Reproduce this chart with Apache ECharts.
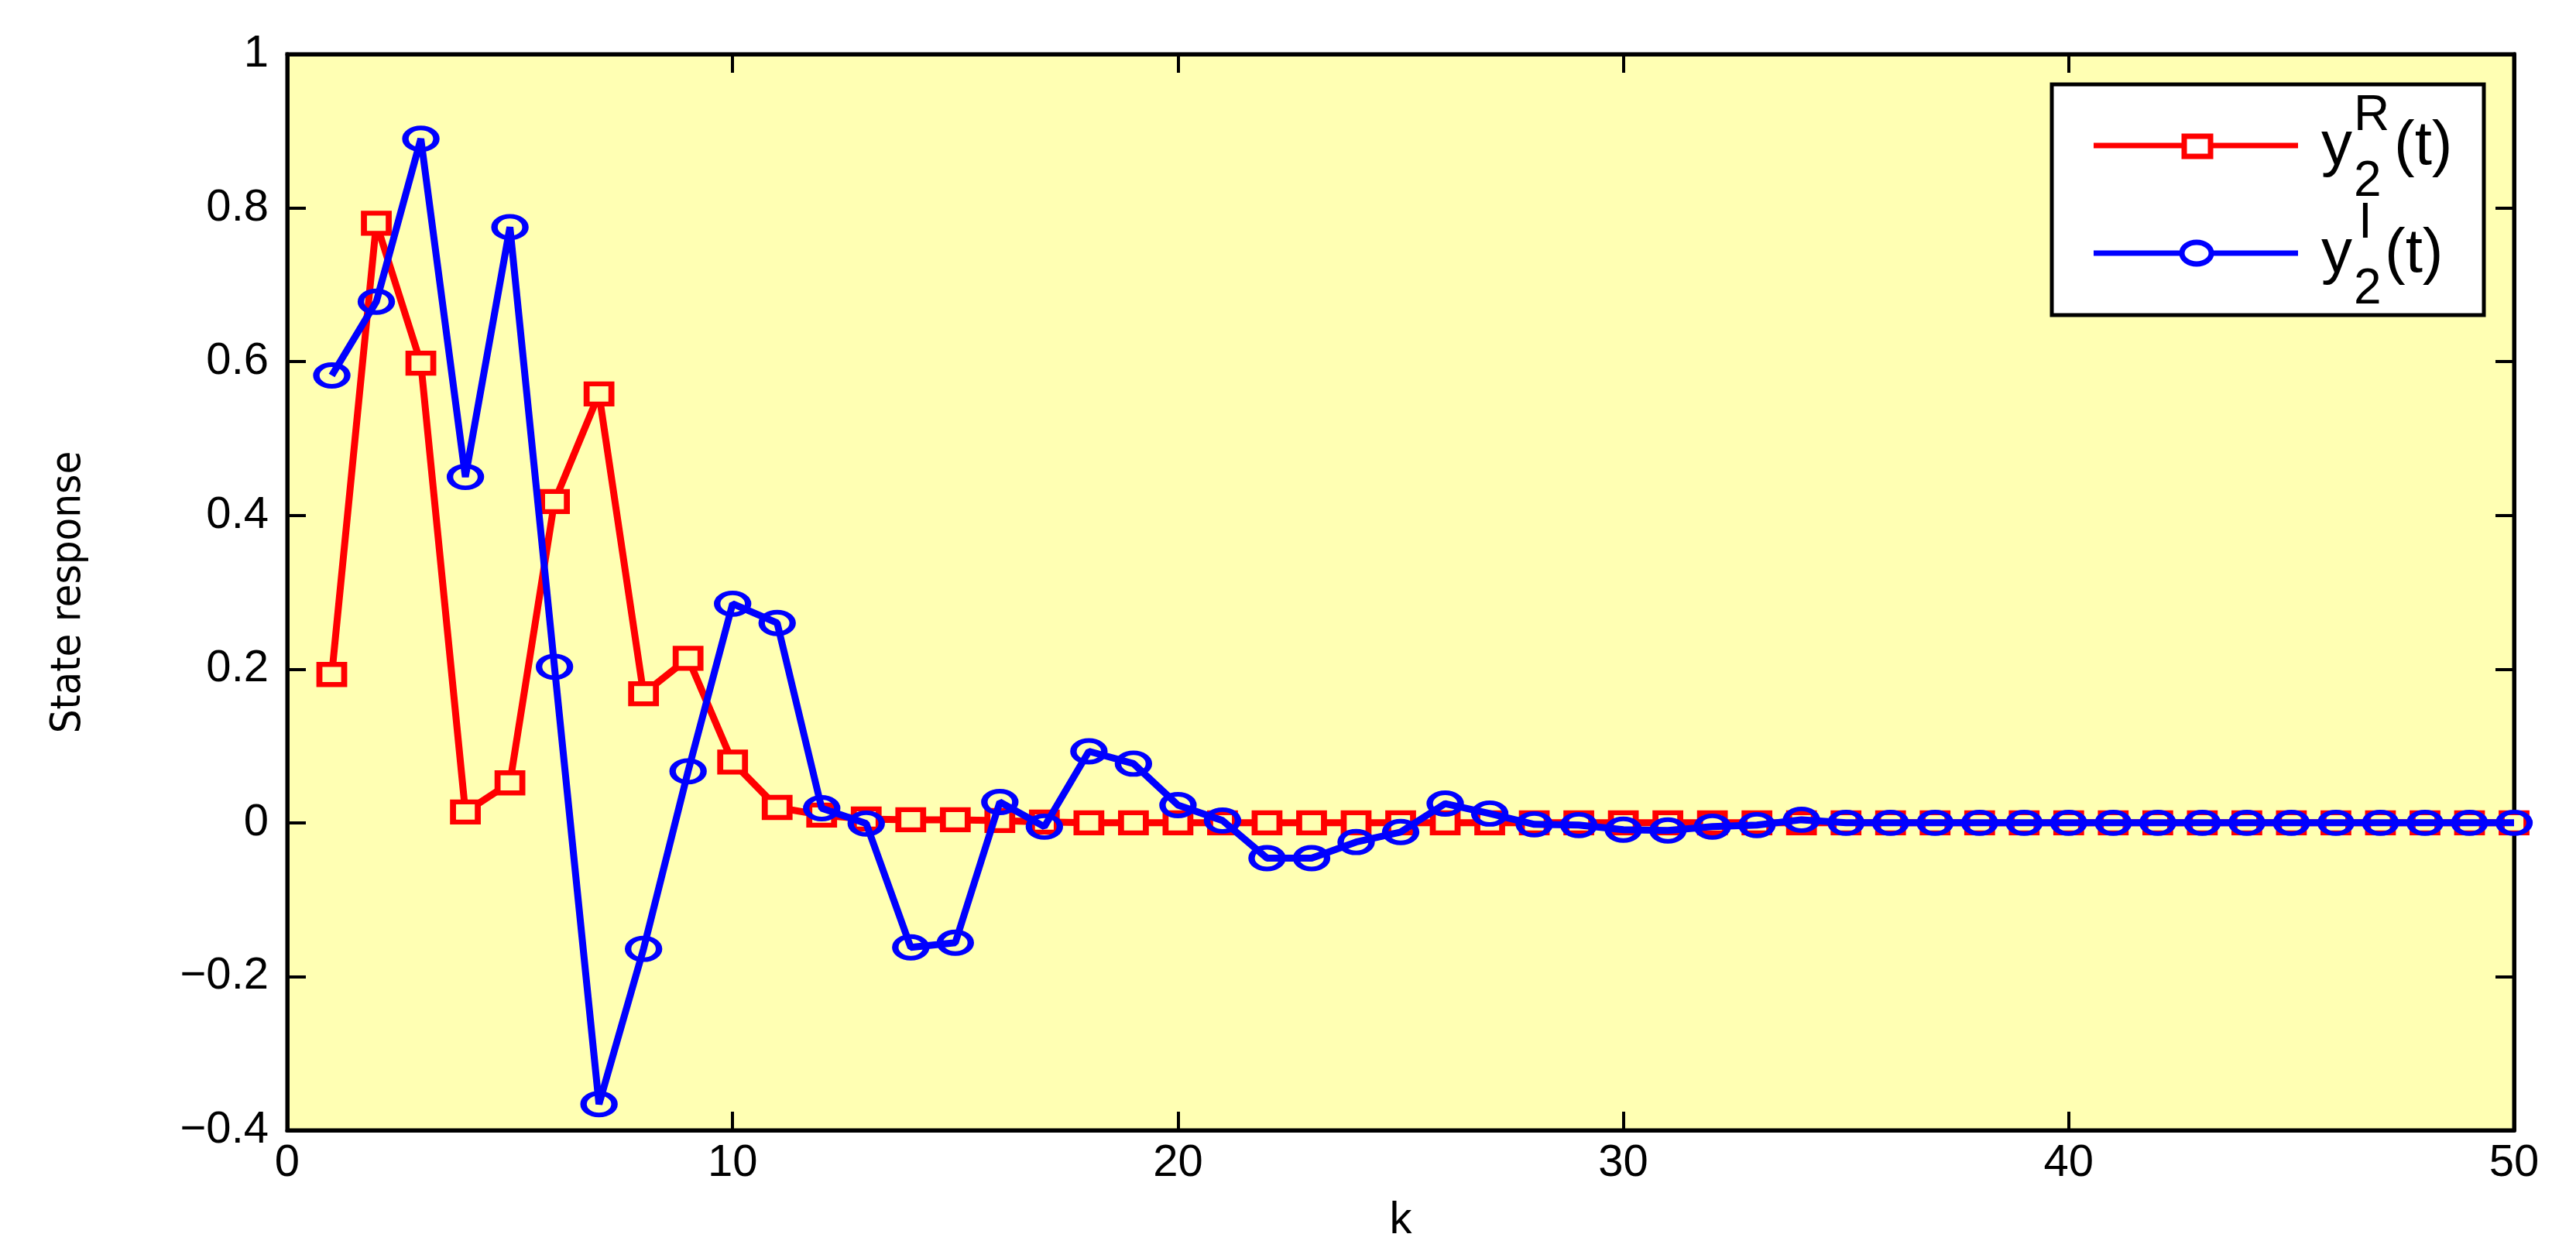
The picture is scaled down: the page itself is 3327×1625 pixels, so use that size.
<!DOCTYPE html>
<html>
<head>
<meta charset="utf-8">
<script src="https://cdn.jsdelivr.net/npm/echarts@6/dist/echarts.min.js"></script>
<style>html,body{margin:0;padding:0;background:#fff}#main{width:3327px;height:1625px}</style>
</head>
<body>
<div id="main"></div>
<script>
// k = 1..50
const kValues = Array.from({ length: 50 }, (_, i) => i + 1);
const yReal = [0.193, 0.78, 0.598, 0.014, 0.052, 0.418, 0.558, 0.168, 0.214, 0.079,
    0.02, 0.01, 0.005, 0.004, 0.004, 0.003, 0.001, 0, 0, 0,
    0, 0, 0, 0, 0, 0, 0, 0, 0, 0,
    0, 0, 0, 0, 0, 0, 0, 0, 0, 0,
    0, 0, 0, 0, 0, 0, 0, 0, 0, 0];
const yImag = [0.582, 0.678, 0.89, 0.45, 0.775, 0.203, -0.366, -0.164, 0.067, 0.285,
    0.26, 0.019, -0.001, -0.162, -0.156, 0.027, -0.005, 0.093, 0.077, 0.023,
    0.003, -0.046, -0.046, -0.025, -0.012, 0.025, 0.012, -0.002, -0.003, -0.009,
    -0.01, -0.005, -0.003, 0.004, 0, 0, 0, 0, 0, 0,
    0, 0, 0, 0, 0, 0, 0, 0, 0, 0];
const xTicks = [0, 10, 20, 30, 40, 50];
const yTicks = [-0.4, -0.2, 0, 0.2, 0.4, 0.6, 0.8, 1];

const font = 'Liberation Sans, Arial, sans-serif';
var myChart = echarts.init(document.getElementById('main'));
const tickStyle = { inside: true, length: 24, lineStyle: { color: '#000', width: 4 } };
const axisLine = { onZero: false, lineStyle: { color: '#000', width: 5 } };
const fmtY = (v) => (Math.round(v * 10) / 10 === 0 ? '0' : String(Math.round(v * 10) / 10).replace('-', '\u2212'));

var option = {
    backgroundColor: '#fff',
    animation: false,
    grid: { left: 371, right: 80, top: 70, bottom: 165, show: true, backgroundColor: '#ffffb3', borderColor: '#000', borderWidth: 5 },
    xAxis: [
        {
            type: 'value', min: 0, max: 50, interval: 10,
            name: 'k', nameLocation: 'middle', nameGap: 88,
            nameTextStyle: { fontFamily: font, fontSize: 58, color: '#000' },
            axisLine: axisLine, axisTick: tickStyle, splitLine: { show: false },
            axisLabel: { fontFamily: font, fontSize: 58, color: '#000', margin: 14 }
        },
        {
            type: 'value', min: 0, max: 50, interval: 10, position: 'top',
            axisLine: axisLine, axisTick: tickStyle, axisLabel: { show: false }, splitLine: { show: false }
        }
    ],
    yAxis: [
        {
            type: 'value', min: -0.4, max: 1, interval: 0.2,
            name: 'State response', nameLocation: 'middle', nameGap: 255,
            nameTextStyle: { fontFamily: 'DejaVu Sans Condensed, ' + font, fontSize: 54, color: '#000' },
            axisLine: axisLine, axisTick: tickStyle, splitLine: { show: false },
            axisLabel: { fontFamily: font, fontSize: 58, color: '#000', margin: 24, formatter: fmtY }
        },
        {
            type: 'value', min: -0.4, max: 1, interval: 0.2, position: 'right',
            axisLine: axisLine, axisTick: tickStyle, axisLabel: { show: false }, splitLine: { show: false }
        }
    ],
    series: [
        {
            name: 'yR', type: 'line',
            data: kValues.map((k, i) => [k, yReal[i]]),
            lineStyle: { color: '#ff0000', width: 9 },
            symbol: 'rect', symbolSize: [32, 26],
            itemStyle: { color: '#ffffb3', borderColor: '#ff0000', borderWidth: 7 },
            z: 2
        },
        {
            name: 'yI', type: 'line',
            data: kValues.map((k, i) => [k, yImag[i]]),
            lineStyle: { color: '#0000ff', width: 9 },
            symbol: 'circle', symbolSize: [40, 28],
            itemStyle: { color: 'rgba(0,0,0,0)', borderColor: '#0000ff', borderWidth: 7 },
            z: 3
        }
    ],
    graphic: [
        { type: 'rect', shape: { x: 2650, y: 109, width: 558, height: 298 }, style: { fill: '#fff', stroke: '#000', lineWidth: 5 }, z: 10 },
        { type: 'line', shape: { x1: 2704, y1: 188, x2: 2968, y2: 188 }, style: { stroke: '#ff0000', lineWidth: 7 }, z: 11 },
        { type: 'rect', shape: { x: 2821, y: 176, width: 34, height: 26 }, style: { fill: '#fff', stroke: '#ff0000', lineWidth: 7 }, z: 12 },
        { type: 'line', shape: { x1: 2704, y1: 327, x2: 2968, y2: 327 }, style: { stroke: '#0000ff', lineWidth: 7 }, z: 11 },
        { type: 'ellipse', shape: { cx: 2837, cy: 327, rx: 19, ry: 14 }, style: { fill: '#fff', stroke: '#0000ff', lineWidth: 7 }, z: 12 },
        { type: 'text', x: 2998, y: 190, style: { text: 'y', font: '80px ' + font, fill: '#000', verticalAlign: 'middle' }, z: 12 },
        { type: 'text', x: 3040, y: 235, style: { text: '2', font: '64px ' + font, fill: '#000', verticalAlign: 'middle' }, z: 12 },
        { type: 'text', x: 3040, y: 150, style: { text: 'R', font: '64px ' + font, fill: '#000', verticalAlign: 'middle' }, z: 12 },
        { type: 'text', x: 3092, y: 190, style: { text: '(t)', font: '80px ' + font, fill: '#000', verticalAlign: 'middle' }, z: 12 },
        { type: 'text', x: 2998, y: 329, style: { text: 'y', font: '80px ' + font, fill: '#000', verticalAlign: 'middle' }, z: 12 },
        { type: 'text', x: 3040, y: 374, style: { text: '2', font: '64px ' + font, fill: '#000', verticalAlign: 'middle' }, z: 12 },
        { type: 'text', x: 3046, y: 289, style: { text: 'I', font: '64px ' + font, fill: '#000', verticalAlign: 'middle' }, z: 12 },
        { type: 'text', x: 3080, y: 329, style: { text: '(t)', font: '80px ' + font, fill: '#000', verticalAlign: 'middle' }, z: 12 }
    ]
};
myChart.setOption(option);
window.onresize = () => {
    myChart.resize();
};
</script>
</body>
</html>
